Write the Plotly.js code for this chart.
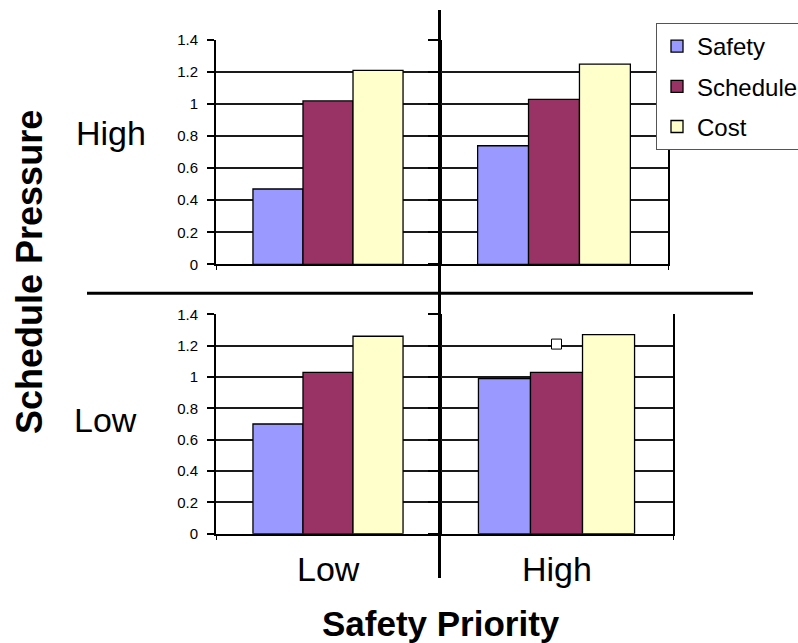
<!DOCTYPE html>
<html>
<head>
<meta charset="utf-8">
<script src="https://cdn.plot.ly/plotly-3.0.1.min.js"></script>
<style>
  html, body { margin: 0; padding: 0; background: #fff; }
  #chart { width: 798px; height: 643px; }
</style>
</head>
<body>
<div id="chart"></div>
<script>
// ---- data ----
const safetyPriority = ['Low', 'High'];          // x categories (columns)
const schedulePressure = ['High', 'Low'];        // rows (top, bottom)
const seriesNames = ['Safety', 'Schedule', 'Cost'];
const seriesColors = ['#9999FF', '#993366', '#FFFFCC'];

// values per schedule-pressure row, indexed by safety priority [Low, High]
const highPressureSafety   = [0.47, 0.74];
const highPressureSchedule = [1.02, 1.03];
const highPressureCost     = [1.21, 1.25];
const lowPressureSafety    = [0.70, 0.99];
const lowPressureSchedule  = [1.03, 1.03];
const lowPressureCost      = [1.26, 1.27];

// stray marker visible in the low-pressure / high-priority panel
const strayMarkerCategory = ['High'];
const strayMarkerValue = [1.21];

const yTickVals = [0, 0.2, 0.4, 0.6, 0.8, 1, 1.2, 1.4];

// ---- build ----
const W = 798, H = 643;
const px = v => v / W;
const py = v => 1 - v / H;

const rows = [
  [highPressureSafety, highPressureSchedule, highPressureCost],
  [lowPressureSafety, lowPressureSchedule, lowPressureCost]
];
const traces = [];
rows.forEach((vals, r) => {
  safetyPriority.forEach((cat, c) => {
    const n = r * 2 + c + 1;
    const suffix = n === 1 ? '' : String(n);
    seriesNames.forEach((name, s) => {
      traces.push({
        type: 'bar',
        name: name,
        legendgroup: name,
        showlegend: n === 1,
        x: [cat],
        y: [vals[s][c]],
        xaxis: 'x' + suffix,
        yaxis: 'y' + suffix,
        marker: { color: seriesColors[s], line: { color: '#000', width: 1.3 } },
        hoverinfo: 'name+y'
      });
    });
  });
});
traces.push({
  type: 'scatter',
  mode: 'markers',
  x: strayMarkerCategory,
  y: strayMarkerValue,
  xaxis: 'x4',
  yaxis: 'y4',
  showlegend: false,
  marker: { symbol: 'square', size: 10, color: '#fff', line: { color: '#000', width: 1 } },
  hoverinfo: 'skip'
});

const tickFont = { family: 'Liberation Sans, Arial, sans-serif', size: 15, color: '#000' };
const bigFont = { family: 'Liberation Sans, Arial, sans-serif', size: 34, color: '#000' };
const boldFont = { family: 'Liberation Sans, Arial, sans-serif', size: 35, color: '#000', weight: 'bold' };

const xDomains = [
  [px(216), px(440)], [px(440), px(668)],
  [px(216), px(440)], [px(440), px(673)]
];
const yDomains = [[py(264.3), py(40)], [py(533.7), py(314.3)]];

const layout = {
  width: W, height: H,
  margin: { l: 0, r: 0, t: 0, b: 0, autoexpand: false },
  paper_bgcolor: '#fff',
  plot_bgcolor: 'rgba(0,0,0,0)',
  barmode: 'group',
  bargap: 0.33,
  bargroupgap: 0,
  font: tickFont,
  showlegend: true,
  legend: {
    x: px(656), y: py(23), xanchor: 'left', yanchor: 'top',
    bgcolor: '#fff', bordercolor: '#555', borderwidth: 1,
    font: { family: 'Liberation Sans, Arial, sans-serif', size: 24, color: '#000' },
    traceorder: 'grouped', tracegroupgap: 6
  },
  annotations: [],
  shapes: [
    { type: 'line', xref: 'paper', yref: 'paper', x0: px(439.5), x1: px(439.5), y0: py(10), y1: py(578),
      line: { color: '#000', width: 3 }, layer: 'above' },
    { type: 'line', xref: 'paper', yref: 'paper', x0: px(87), x1: px(753), y0: py(293.3), y1: py(293.3),
      line: { color: '#000', width: 3 }, layer: 'above' }
  ]
};

for (let n = 1; n <= 4; n++) {
  const suffix = n === 1 ? '' : String(n);
  const r = n <= 2 ? 0 : 1;
  const c = (n - 1) % 2;
  layout['xaxis' + suffix] = {
    domain: xDomains[n - 1],
    anchor: 'y' + suffix,
    type: 'category',
    showline: true, linecolor: '#000', linewidth: 2,
    ticks: 'outside', ticklen: 4, tickcolor: '#000', tickson: 'boundaries',
    showticklabels: false, showgrid: false, zeroline: false,
    fixedrange: true
  };
  layout['yaxis' + suffix] = {
    domain: yDomains[r],
    anchor: 'x' + suffix,
    range: [0, 1.4],
    tickvals: yTickVals,
    showgrid: true, gridcolor: '#1a1a1a', gridwidth: 2,
    zeroline: false,
    showline: true, linecolor: '#000', linewidth: 2, mirror: true,
    ticks: 'outside', ticklen: c === 0 ? 7 : 10, tickcolor: '#000', tickwidth: 2,
    showticklabels: c === 0,
    tickfont: tickFont,
    ticklabelstandoff: 6,
    fixedrange: true
  };
}

// row labels (schedule pressure)
const rowLabelPos = [{ x: 111, y: 133 }, { x: 105, y: 420 }];
schedulePressure.forEach((lab, r) => {
  layout.annotations.push({
    text: lab, xref: 'paper', yref: 'paper',
    x: px(rowLabelPos[r].x), y: py(rowLabelPos[r].y),
    xanchor: 'center', yanchor: 'middle', showarrow: false, font: bigFont
  });
});
// column labels (safety priority) under bottom panels
safetyPriority.forEach((lab, c) => {
  layout.annotations.push({
    text: lab, xref: c === 0 ? 'x3' : 'x4', yref: 'paper',
    x: lab, y: py(569),
    xanchor: 'center', yanchor: 'middle', showarrow: false, font: bigFont
  });
});
// axis titles
layout.annotations.push({
  text: 'Safety Priority', xref: 'paper', yref: 'paper',
  x: px(441), y: py(623), xanchor: 'center', yanchor: 'middle', showarrow: false, font: boldFont
});
layout.annotations.push({
  text: 'Schedule Pressure', xref: 'paper', yref: 'paper', textangle: -90,
  x: px(29.5), y: py(272.5), xanchor: 'center', yanchor: 'middle', showarrow: false,
  font: { family: 'Liberation Sans, Arial, sans-serif', size: 36, color: '#000', weight: 'bold' }
});

Plotly.newPlot('chart', traces, layout, { displayModeBar: false, staticPlot: true });
</script>
</body>
</html>
